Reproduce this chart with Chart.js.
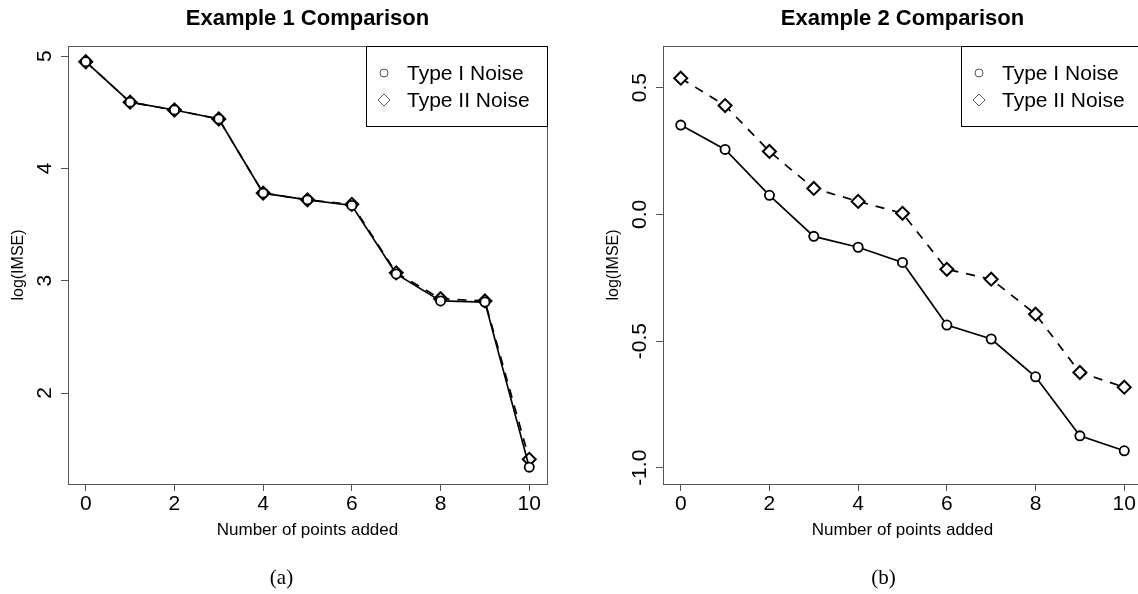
<!DOCTYPE html>
<html>
<head>
<meta charset="utf-8">
<script src="https://cdn.jsdelivr.net/npm/chart.js@4"></script>
<style>
  html, body { margin: 0; padding: 0; background: #fff; overflow: hidden; }
  body { width: 1138px; height: 594px; position: relative; }
  #wrapA { position: absolute; left: 0; top: 0; width: 569px; height: 594px; }
  #wrapB { position: absolute; left: 569px; top: 0; width: 600px; height: 594px; }
</style>
</head>
<body>
<div id="wrapA"><canvas id="chartA"></canvas></div>
<div id="wrapB"><canvas id="chartB"></canvas></div>
<script>
'use strict';

// ── Data ─────────────────────────────────────────────
const pointsAdded = [0, 1, 2, 3, 4, 5, 6, 7, 8, 9, 10];

const ex1TypeI  = [4.95, 4.59, 4.52, 4.44, 3.78, 3.72, 3.67, 3.06, 2.82, 2.81, 1.34];
const ex1TypeII = [4.95, 4.59, 4.52, 4.44, 3.78, 3.72, 3.68, 3.07, 2.84, 2.82, 1.41];

const ex2TypeI  = [0.352, 0.256, 0.075, -0.087, -0.130, -0.190, -0.437, -0.492, -0.641, -0.874, -0.933];
const ex2TypeII = [0.537, 0.429, 0.248, 0.102, 0.051, 0.004, -0.217, -0.256, -0.394, -0.624, -0.682];

const xTicks = [0, 2, 4, 6, 8, 10];
const ex1YTicks = [2, 3, 4, 5];
const ex1YTickLabels = ['2', '3', '4', '5'];
const ex2YTicks = [-1, -0.5, 0, 0.5];
const ex2YTickLabels = ['-1.0', '-0.5', '0.0', '0.5'];

const seriesNames = ['Type I Noise', 'Type II Noise'];

const SANS = '"Liberation Sans", Arial, sans-serif';
const SERIF = '"Liberation Serif", "Times New Roman", serif';
const FRAME = '#555';

// ── R-style decorations drawn around the chart area ──
const rStyle = {
    id: 'rStyle',
    afterDraw(chart, args, opts) {
        const { ctx, chartArea: a, scales } = chart;
        const cx = (a.left + a.right) / 2;
        const cy = (a.top + a.bottom) / 2;
        ctx.save();

        // plot box
        ctx.strokeStyle = FRAME;
        ctx.lineWidth = 1;
        ctx.strokeRect(a.left + 0.5, a.top + 0.5, a.right - a.left, a.bottom - a.top);

        // y tick labels, parallel to the axis
        ctx.fillStyle = '#000';
        ctx.font = '21px ' + SANS;
        ctx.textAlign = 'center';
        ctx.textBaseline = 'middle';
        opts.yTicks.forEach((v, i) => {
            const y = scales.y.getPixelForValue(v);
            ctx.save();
            ctx.translate(a.left - 23, y);
            ctx.rotate(-Math.PI / 2);
            ctx.fillText(opts.yLabels[i], 0, 0);
            ctx.restore();
        });

        // title
        ctx.font = 'bold 22px ' + SANS;
        ctx.fillText(opts.title, cx, 19);

        // axis titles
        ctx.font = '17px ' + SANS;
        ctx.fillText('Number of points added', cx, 530);
        ctx.save();
        ctx.translate(a.left - 49, cy);
        ctx.rotate(-Math.PI / 2);
        ctx.font = '16px ' + SANS;
        ctx.fillText('log(IMSE)', 0, 0);
        ctx.restore();

        // sub-figure caption
        ctx.font = '21px ' + SERIF;
        ctx.fillText(opts.caption, cx + opts.captionShift, 578);

        // legend box, top right inside the plot
        const lx = opts.legendLeft, lw = a.right - lx;
        ctx.strokeStyle = '#000';
        ctx.strokeRect(lx + 0.5, a.top + 0.5, lw, 80);
        ctx.strokeStyle = '#555';
        ctx.lineWidth = 1;
        const symX = lx + 18;
        const rows = [a.top + 27, a.top + 54];
        ctx.beginPath();
        ctx.arc(symX, rows[0], 4, 0, Math.PI * 2);
        ctx.stroke();
        ctx.beginPath();
        ctx.moveTo(symX, rows[1] - 6);
        ctx.lineTo(symX + 6, rows[1]);
        ctx.lineTo(symX, rows[1] + 6);
        ctx.lineTo(symX - 6, rows[1]);
        ctx.closePath();
        ctx.stroke();
        ctx.font = '21px ' + SANS;
        ctx.textAlign = 'left';
        ctx.fillText(seriesNames[0], lx + 41, rows[0] + 1);
        ctx.fillText(seriesNames[1], lx + 41, rows[1] + 1);

        ctx.restore();
    }
};

function makeSeries(values) {
    return pointsAdded.map((x, i) => ({ x: x, y: values[i] }));
}

function buildChart(canvasId, o) {
    return new Chart(document.getElementById(canvasId), {
        type: 'line',
        data: {
            datasets: [
                {
                    label: seriesNames[0],
                    data: makeSeries(o.typeI),
                    borderColor: '#000',
                    borderWidth: 1.7,
                    pointStyle: 'circle',
                    pointRadius: 4.6,
                    pointBorderWidth: 1.8,
                    pointBackgroundColor: '#fff',
                    pointBorderColor: '#000',
                    tension: 0
                },
                {
                    label: seriesNames[1],
                    data: makeSeries(o.typeII),
                    borderColor: '#000',
                    borderWidth: 1.7,
                    borderDash: [9, 8],
                    pointStyle: 'rectRot',
                    pointRadius: 6.5,
                    pointBorderWidth: 2,
                    pointBackgroundColor: '#fff',
                    pointBorderColor: '#000',
                    tension: 0
                }
            ]
        },
        options: {
            responsive: true,
            maintainAspectRatio: false,
            animation: false,
            layout: { padding: { top: 46, left: 0, right: o.padRight, bottom: 0 } },
            scales: {
                x: {
                    type: 'linear',
                    min: -0.4,
                    max: 10.4,
                    afterBuildTicks: s => { s.ticks = xTicks.map(v => ({ value: v })); },
                    afterFit: s => { s.height = 110; },
                    grid: {
                        drawOnChartArea: false,
                        drawTicks: true,
                        tickLength: 7,
                        color: FRAME
                    },
                    border: { display: false },
                    ticks: {
                        color: '#000',
                        font: { family: SANS, size: 21 },
                        padding: 1,
                        maxRotation: 0,
                        autoSkip: false
                    }
                },
                y: {
                    type: 'linear',
                    min: o.yMin,
                    max: o.yMax,
                    afterBuildTicks: s => { s.ticks = o.yTicks.map(v => ({ value: v })); },
                    afterFit: s => { s.width = o.yWidth; },
                    grid: {
                        drawOnChartArea: false,
                        drawTicks: true,
                        tickLength: 7,
                        color: FRAME
                    },
                    border: { display: false },
                    ticks: { color: 'rgba(0,0,0,0)', font: { size: 12 } }
                }
            },
            plugins: {
                legend: { display: false },
                tooltip: { enabled: false },
                rStyle: {
                    title: o.title,
                    caption: o.caption,
                    captionShift: o.captionShift,
                    yTicks: o.yTicks,
                    yLabels: o.yLabels,
                    legendLeft: o.legendLeft
                }
            }
        },
        plugins: [rStyle]
    });
}

// ── Panel (a) ────────────────────────────────────────
buildChart('chartA', {
    typeI: ex1TypeI,
    typeII: ex1TypeII,
    yMin: 1.19,
    yMax: 5.09,
    yTicks: ex1YTicks,
    yLabels: ex1YTickLabels,
    yWidth: 68,
    padRight: 22,
    title: 'Example 1 Comparison',
    caption: '(a)',
    captionShift: -26,
    legendLeft: 366
});

// ── Panel (b) ────────────────────────────────────────
buildChart('chartB', {
    typeI: ex2TypeI,
    typeII: ex2TypeII,
    yMin: -1.064,
    yMax: 0.664,
    yTicks: ex2YTicks,
    yLabels: ex2YTickLabels,
    yWidth: 94,
    padRight: 27,
    title: 'Example 2 Comparison',
    caption: '(b)',
    captionShift: -19,
    legendLeft: 961 - 569
});
</script>
</body>
</html>
